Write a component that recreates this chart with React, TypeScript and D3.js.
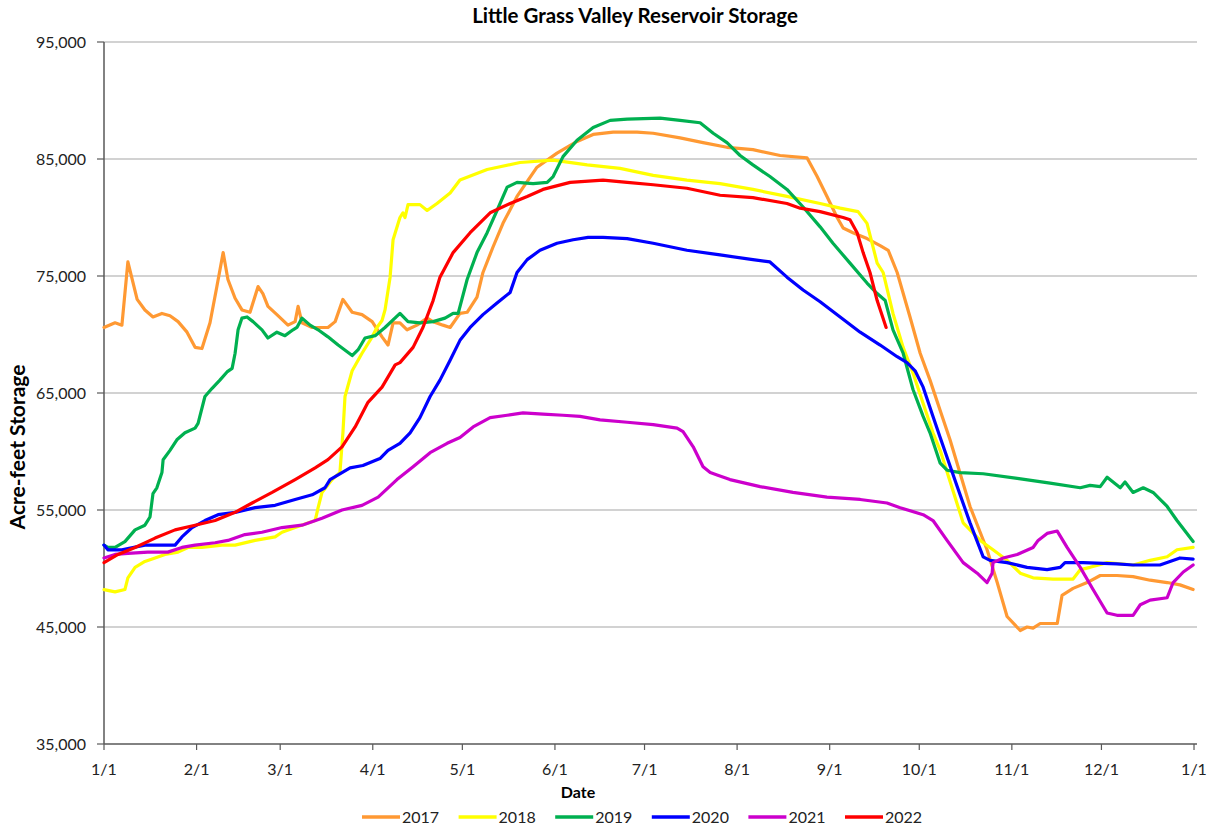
import React from "react";
import * as d3 from "d3";

type Pt = [number, number];

const monthTickDays = [0, 31, 59, 90, 120, 151, 181, 212, 243, 273, 304, 334, 365];
const monthTickLabels = ["1/1", "2/1", "3/1", "4/1", "5/1", "6/1", "7/1", "8/1", "9/1", "10/1", "11/1", "12/1", "1/1"];
const yTicks = [35000, 45000, 55000, 65000, 75000, 85000, 95000];
const seriesNames = ["2017", "2018", "2019", "2020", "2021", "2022"];
const seriesColors = ["#FF9933", "#FFFF00", "#00B050", "#0000FF", "#CC00CC", "#FF0000"];

const s2017: Pt[] = [[0,70600],[3.7,71000],[6,70800],[8,76200],[11.1,73000],[13.7,72100],[16.4,71500],[19.4,71800],[22.1,71600],[24.8,71100],[27.8,70200],[30.5,68900],[32.8,68800],[35.5,71000],[37.8,74100],[39.9,77000],[41.5,74700],[43.9,73100],[46.2,72100],[48.9,71900],[51.6,74100],[53.2,73500],[54.9,72400],[57.9,71700],[61.6,70800],[64,71100],[65,72400],[66.3,71000],[69.7,70600],[75,70600],[77.4,71100],[80,73000],[83.1,71900],[86.4,71700],[89.8,71100],[93.1,69800],[95.1,69100],[96.8,71000],[99.1,71000],[101.5,70400],[104.8,70800],[108.2,71400],[110.2,71100],[113.5,70800],[115.9,70600],[119.2,71800],[121.6,71900],[124.9,73200],[126.9,75300],[130.3,77500],[133.6,79500],[138.3,81800],[145,84300],[151.7,85500],[158.4,86500],[163.8,87100],[170.5,87300],[178.5,87300],[183.9,87200],[192.9,86800],[200.6,86400],[208.6,86000],[217.3,85800],[226.4,85300],[235.4,85100],[238.8,83500],[242.1,81800],[245.5,80000],[247.5,79100],[250.8,78700],[255.5,78200],[259.9,77600],[262.6,77200],[265.6,75300],[269.9,71500],[273.3,68400],[276.6,66100],[280,63500],[283.3,61000],[290,55300],[295.7,51600],[299.1,48800],[302.4,45900],[306.8,44700],[309.1,45000],[311.1,44900],[313.5,45300],[319.2,45300],[320.8,47700],[324.5,48300],[329.2,48800],[333.6,49400],[339.2,49400],[344.6,49300],[350.3,49000],[356,48800],[360.3,48600],[364.7,48200]];

const s2018: Pt[] = [[0,48200],[3.7,48000],[7,48200],[8,49200],[10.4,50100],[13.7,50600],[17.1,50900],[20.4,51200],[24.8,51400],[28.1,51800],[32.8,51800],[39.5,52000],[43.9,52000],[50.6,52400],[57.3,52700],[59.6,53100],[64,53500],[70.7,54100],[71.7,55200],[73,56500],[76.4,57600],[79,58200],[80,61600],[80.7,64700],[83.1,66900],[86.4,68400],[89.8,69800],[91.4,70600],[93.1,71200],[94.1,72100],[95.8,74900],[96.8,78100],[99.1,80000],[100.1,80400],[100.8,80000],[101.8,81100],[105.8,81100],[108.2,80600],[111.5,81200],[115.9,82100],[119.2,83200],[128.3,84100],[139.3,84700],[150.4,84900],[161.8,84500],[172.8,84200],[183.9,83600],[195.2,83200],[206.3,82900],[217.3,82400],[228.7,81800],[239.8,81200],[246.5,80800],[252.5,80500],[255.5,79500],[258.9,76100],[260.9,75300],[264.2,71800],[267.6,68900],[270.9,66700],[274.3,64100],[277.6,61600],[280,60100],[287.7,53900],[293.4,52400],[297.7,51600],[302.4,50700],[306.8,49600],[311.1,49200],[317.8,49100],[324.5,49100],[326.9,49900],[330.2,50100],[335.9,50500],[344.6,50300],[350.3,50700],[356,51000],[359.3,51600],[364.7,51800]];

const s2019: Pt[] = [[0,52000],[1.3,51800],[3.7,51800],[7,52300],[10.4,53300],[13.7,53700],[15.4,54400],[16.4,56400],[17.7,56900],[19.4,58200],[19.8,59300],[22.1,60100],[24.4,61000],[27.1,61600],[30.5,62000],[31.5,62400],[33.8,64700],[36.2,65400],[38.8,66100],[41.2,66800],[42.9,67100],[43.9,68400],[44.9,70400],[46.2,71400],[47.9,71500],[49.9,71100],[52.9,70400],[54.9,69700],[57.9,70200],[60.6,69900],[63.3,70400],[64.6,70600],[66.3,71400],[69,70800],[71.7,70400],[75,69800],[78.4,69100],[83.1,68200],[85.1,68700],[87.4,69700],[90.8,69900],[94.1,70600],[99.1,71800],[101.8,71100],[105.8,71000],[110.2,71100],[114.2,71400],[116.9,71800],[118.6,71800],[121.6,74700],[124.9,77000],[128.3,78700],[131.6,80600],[135,82600],[138.3,83000],[143.7,82900],[148.4,83000],[150.4,83500],[153.7,85200],[158.4,86600],[163.8,87700],[169.5,88300],[175.2,88400],[186.2,88500],[192.9,88300],[199.6,88100],[204,87200],[208.6,86400],[213,85300],[217.3,84500],[223,83500],[228.7,82400],[234.1,80900],[239.8,79200],[244.1,77800],[249.8,76100],[255.5,74400],[258.9,73500],[261.6,72900],[264.2,70400],[267.6,68400],[270.9,65300],[274.3,63000],[276.6,61600],[280,59000],[282.3,58400],[286.7,58200],[294.4,58100],[305.8,57700],[316.8,57300],[326.9,56900],[330.2,57100],[333.6,57000],[335.9,57800],[340.3,56900],[341.9,57400],[344.6,56500],[348,56900],[351.3,56500],[356,55300],[359.3,54100],[364.7,52300]];

const s2020: Pt[] = [[0,52000],[1.3,51600],[6,51600],[13.7,52000],[19.4,52000],[23.8,52000],[26.1,52700],[29.5,53500],[33.8,54100],[38.2,54600],[43.9,54800],[50.6,55200],[57.3,55400],[64,55900],[69.7,56300],[74,56900],[75.7,57600],[82.4,58600],[86.7,58800],[92.4,59400],[95.1,60100],[99.1,60700],[102.5,61600],[105.8,62900],[109.2,64700],[112.5,66100],[115.9,67800],[119.2,69500],[122.6,70600],[126.9,71700],[131.6,72700],[136,73600],[138.3,75300],[141.7,76400],[146,77200],[151.7,77800],[157.1,78100],[162.1,78300],[167.1,78300],[175.2,78200],[183.9,77800],[195.2,77200],[206.3,76800],[217.3,76400],[223,76200],[228.7,74900],[234.1,73800],[239.8,72800],[246.5,71500],[253.2,70200],[259.9,69100],[265.6,68100],[268.9,67600],[271.6,66900],[274.3,65500],[277.6,63000],[280,61200],[285.7,57000],[290,53900],[294.4,51000],[296.7,50700],[302.4,50500],[309.1,50100],[315.8,49900],[320.2,50100],[321.8,50500],[327.9,50500],[339.2,50400],[344.6,50300],[353.6,50300],[360.3,50900],[364.7,50800]];

const s2021: Pt[] = [[0,50900],[3.7,51200],[8,51300],[14.7,51400],[21.4,51400],[26.1,51800],[30.5,52000],[37.2,52200],[41.5,52400],[47.2,52900],[52.9,53100],[59.6,53500],[66.3,53700],[73,54300],[79.7,55000],[86.4,55400],[91.8,56100],[98.1,57600],[103.5,58700],[109.2,59900],[114.9,60700],[119.2,61200],[123.6,62100],[129.3,62900],[135,63100],[140.3,63300],[147,63200],[153.7,63100],[159.4,63000],[166.1,62700],[175.2,62500],[183.9,62300],[191.9,62000],[193.9,61700],[197.3,60400],[200.6,58700],[203,58200],[205.3,58000],[209.6,57600],[219.7,57000],[230.7,56500],[242.1,56100],[253.2,55900],[262.2,55600],[266.6,55200],[274.3,54600],[277.6,54100],[282.3,52400],[287.7,50500],[292.4,49600],[295.7,48800],[297.4,49600],[297.7,50500],[301.1,50900],[305.8,51200],[311.1,51800],[312.8,52400],[315.8,53000],[319.2,53200],[322.5,51800],[326.9,50100],[331.2,48200],[335.9,46200],[339.2,46000],[344.6,46000],[347,46900],[350.3,47300],[356,47500],[358,48800],[361.4,49700],[364.7,50300]];

const s2022: Pt[] = [[0,50500],[4.7,51200],[10.4,51800],[17.1,52600],[23.8,53300],[30.5,53700],[37.2,54100],[43.9,54800],[49.6,55600],[56.3,56500],[64,57600],[70.7,58600],[75,59300],[79.7,60400],[84.1,62100],[88.4,64200],[93.1,65500],[97.5,67400],[99.1,67600],[103.5,68900],[106.8,70600],[110.2,72900],[112.5,74900],[116.9,77000],[122.6,78700],[129.3,80400],[136,81200],[141.7,81800],[147,82400],[156.1,83000],[167.1,83200],[175.2,83000],[183.9,82800],[195.2,82500],[206.3,81900],[217.3,81700],[228.7,81200],[233.1,80800],[239.8,80500],[247.5,80000],[249.8,79800],[252.2,78700],[254.2,77000],[256.5,75300],[258.9,72900],[261.9,70600]];

const allSeries = [s2017, s2018, s2019, s2020, s2021, s2022];

const W = 1223;
const H = 831;
const left = 104;
const right = 1197;
const top = 42;
const bottom = 744;
const FONT = "Lato, sans-serif";

export default function App() {
  const x = d3.scaleLinear().domain([0, 366]).range([left, right]);
  const y = d3.scaleLinear().domain([35000, 95000]).range([bottom, top]);
  const line = d3
    .line<Pt>()
    .x((d) => x(d[0]))
    .y((d) => y(d[1]));
  const fmt = d3.format(",");

  return (
    <svg
      width={W}
      height={H}
      style={{ position: "absolute", left: 0, top: 0, background: "#fff" }}
      fontFamily={FONT}
    >
      <rect x={0} y={0} width={W} height={H} fill="#fff" />
      {yTicks.map((t) => (
        <g key={t}>
          {t !== 35000 && (
            <line x1={left} x2={right} y1={y(t)} y2={y(t)} stroke="#A6A6A6" strokeWidth={1.2} />
          )}
          <line x1={left - 7} x2={left} y1={y(t)} y2={y(t)} stroke="#595959" strokeWidth={1.2} />
          <text x={86} y={y(t) + 5.5} textAnchor="end" fontSize={16} fill="#222">
            {fmt(t)}
          </text>
        </g>
      ))}
      {monthTickDays.map((d, i) => (
        <g key={i}>
          <line x1={x(d)} x2={x(d)} y1={bottom} y2={bottom + 6} stroke="#595959" strokeWidth={1.2} />
          <text x={x(d)} y={775} textAnchor="middle" fontSize={16} fill="#222">
            {monthTickLabels[i]}
          </text>
        </g>
      ))}
      <line x1={left} x2={left} y1={top} y2={bottom} stroke="#595959" strokeWidth={1.5} />
      <line x1={left} x2={right} y1={bottom} y2={bottom} stroke="#595959" strokeWidth={1.5} />

      {allSeries.map((s, i) => (
        <path
          key={seriesNames[i]}
          d={line(s) || ""}
          fill="none"
          stroke={seriesColors[i]}
          strokeWidth={3.2}
          strokeLinejoin="round"
          strokeLinecap="round"
        />
      ))}

      <text x={635} y={23} textAnchor="middle" fontSize={20.5} fontWeight="bold" fill="#000">
        Little Grass Valley Reservoir Storage
      </text>
      <text
        transform={`translate(25,447) rotate(-90)`}
        textAnchor="middle"
        fontSize={21}
        fontWeight="bold"
        fill="#000"
      >
        Acre-feet Storage
      </text>
      <text x={578} y={798} textAnchor="middle" fontSize={16} fontWeight="bold" fill="#000">
        Date
      </text>

      {seriesNames.map((n, i) => {
        const lx = 362 + i * 96.6;
        return (
          <g key={n}>
            <line x1={lx} x2={lx + 38} y1={817} y2={817} stroke={seriesColors[i]} strokeWidth={3.5} />
            <text x={lx + 40} y={823} fontSize={16} fill="#222">
              {n}
            </text>
          </g>
        );
      })}
    </svg>
  );
}
